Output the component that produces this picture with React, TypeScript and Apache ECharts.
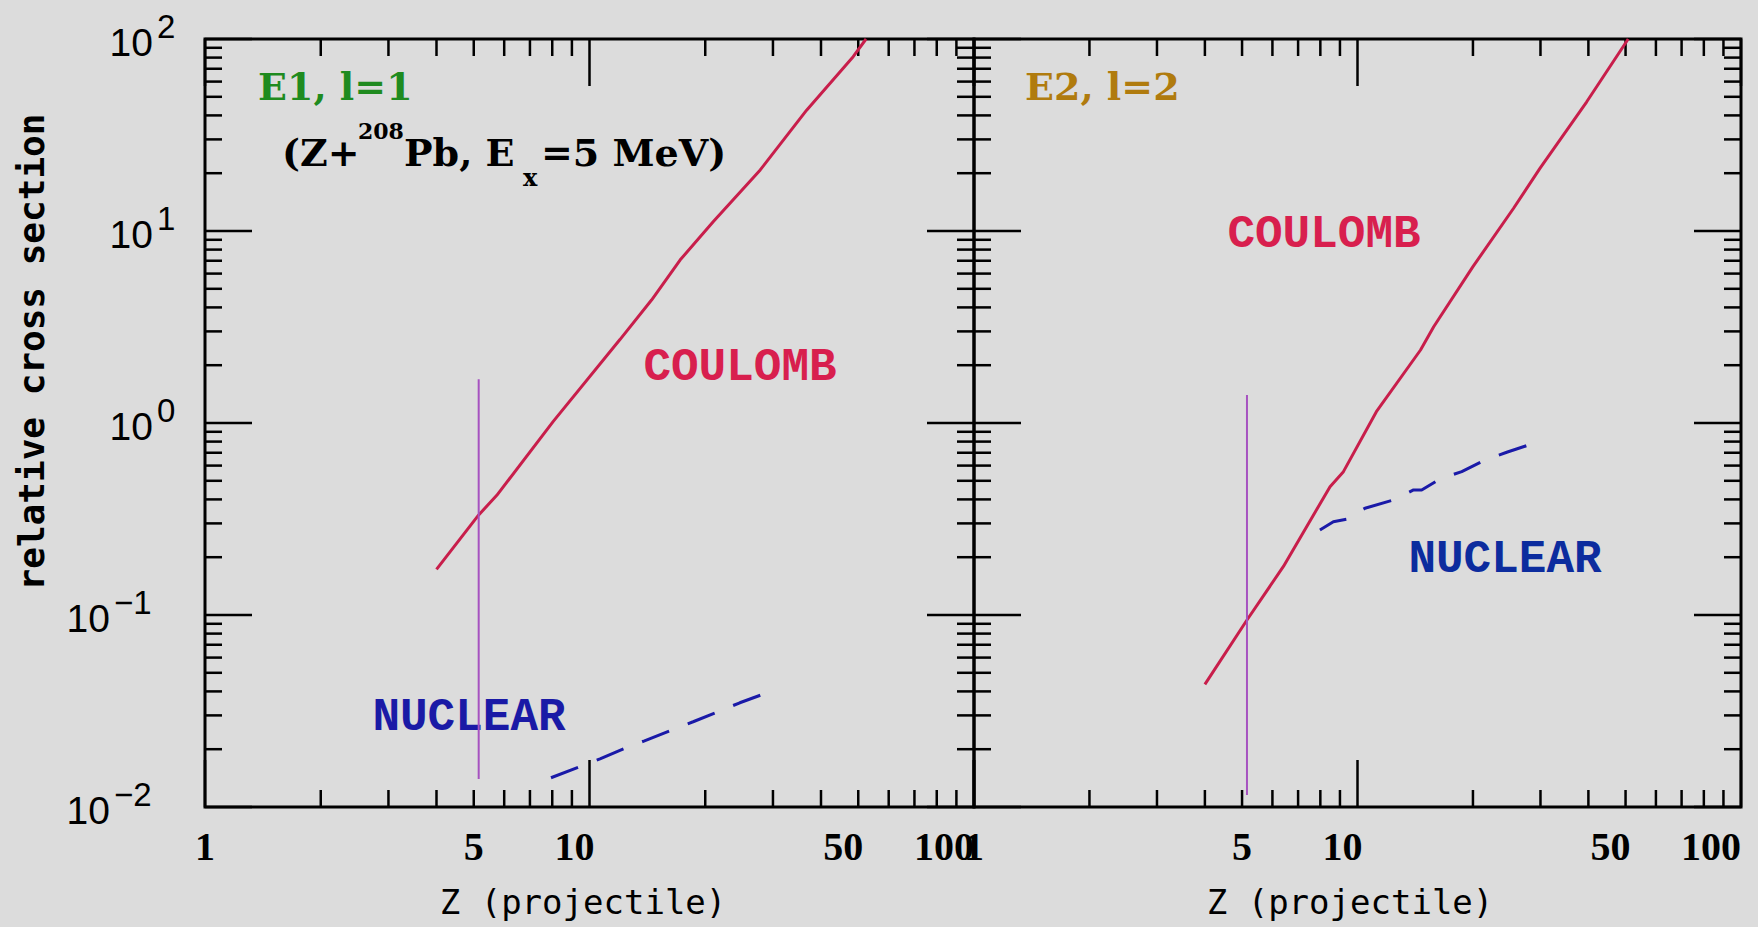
import React, { useEffect, useRef } from 'react';
import * as echarts from 'echarts';

// ---- axis ranges ----
const X_MIN = 1;
const X_MAX = 100;
const Y_MIN = 0.01;
const Y_MAX = 100;

// ---- tick values & labels ----
const xTickValues = [1, 2, 3, 4, 5, 6, 7, 8, 9, 10, 20, 30, 40, 50, 60, 70, 80, 90, 100];
const yTickValues = [
  0.01, 0.02, 0.03, 0.04, 0.05, 0.06, 0.07, 0.08, 0.09,
  0.1, 0.2, 0.3, 0.4, 0.5, 0.6, 0.7, 0.8, 0.9,
  1, 2, 3, 4, 5, 6, 7, 8, 9,
  10, 20, 30, 40, 50, 60, 70, 80, 90, 100,
];
const xTickLabels = [1, 5, 10, 50, 100];
const yTickExponents = [-2, -1, 0, 1, 2];

// ---- E1 panel ----
const e1CoulombZ = [4.0, 5.15, 5.74, 8.05, 12.0, 14.5, 17.2, 21.0, 27.8, 36.7, 48.5, 52.4];
const e1CoulombSigma = [0.173, 0.332, 0.42, 1.02, 2.72, 4.37, 7.06, 11.2, 20.8, 42.6, 80.9, 100];
const e1NuclearZ = [7.94, 9.41, 10.65, 12.5, 13.9, 16.4, 18.6, 21.8, 24.6, 28.3];
const e1NuclearSigma = [0.0142, 0.0162, 0.0178, 0.0204, 0.0221, 0.0252, 0.0278, 0.0316, 0.0349, 0.0387];
const e1MarkerZ = [5.15, 5.15];
const e1MarkerSigma = [0.014, 1.69];

// ---- E2 panel ----
const e2CoulombZ = [4.0, 5.15, 6.41, 8.48, 9.19, 11.2, 14.6, 15.8, 20.0, 25.5, 29.9, 39.6, 50.8];
const e2CoulombSigma = [0.0435, 0.0942, 0.179, 0.466, 0.558, 1.145, 2.4, 3.17, 6.52, 13.1, 21.2, 47.1, 100];
const e2NuclearZ = [7.98, 8.65, 9.41, 10.46, 12.4, 14.0, 14.7, 16.4, 18.7, 21.5, 24.5, 28.5];
const e2NuclearSigma = [0.277, 0.306, 0.316, 0.36, 0.397, 0.448, 0.448, 0.511, 0.558, 0.641, 0.704, 0.778];
const e2MarkerZ = [5.15, 5.15];
const e2MarkerSigma = [0.01155, 1.4];

const zip = (xs: number[], ys: number[]) => xs.map((x, i) => [x, ys[i]]);

const MAJOR = 47;
const MINOR = 17;
const TICK_STYLE = { stroke: '#000', lineWidth: 2.5 };
const isMajor = (v: number) => {
  const l = Math.log10(v);
  return Math.abs(l - Math.round(l)) < 1e-6;
};

const xTickRender = (_p: any, api: any) => {
  const v = api.value(0);
  const b = api.coord([v, Y_MIN]);
  const t = api.coord([v, Y_MAX]);
  const len = isMajor(v) ? MAJOR : MINOR;
  return {
    type: 'group',
    children: [
      { type: 'line', shape: { x1: b[0], y1: b[1], x2: b[0], y2: b[1] - len }, style: TICK_STYLE },
      { type: 'line', shape: { x1: t[0], y1: t[1], x2: t[0], y2: t[1] + len }, style: TICK_STYLE },
    ],
  };
};

const yTickRender = (_p: any, api: any) => {
  const v = api.value(1);
  const l = api.coord([X_MIN, v]);
  const r = api.coord([X_MAX, v]);
  const len = isMajor(v) ? MAJOR : MINOR;
  return {
    type: 'group',
    children: [
      { type: 'line', shape: { x1: l[0], y1: l[1], x2: l[0] + len, y2: l[1] }, style: TICK_STYLE },
      { type: 'line', shape: { x1: r[0], y1: r[1], x2: r[0] - len, y2: r[1] }, style: TICK_STYLE },
    ],
  };
};

const xLabelRender = (_p: any, api: any) => {
  const v = api.value(0);
  const b = api.coord([v, Y_MIN]);
  const s = String(v);
  return {
    type: 'text',
    x: b[0] - (s.length - 1) * 15,
    y: b[1] + 39,
    style: {
      text: s,
      fill: '#000',
      fontSize: 40,
      fontWeight: 'bold',
      fontFamily: '"Liberation Serif"',
      align: 'center',
      verticalAlign: 'middle',
      textAlign: 'center',
      textVerticalAlign: 'middle',
    },
  };
};

const yLabelRender = (_p: any, api: any) => {
  const v = api.value(1);
  const e = Math.round(Math.log10(v));
  const p = api.coord([X_MIN, v]);
  const mainRight = p[0] - (e < 0 ? 95 : 52);
  const sup = e < 0 ? '\u2212' + Math.abs(e) : String(e);
  return {
    type: 'group',
    children: [
      {
        type: 'text',
        x: mainRight,
        y: p[1] + 3.5,
        style: {
          text: '10', fill: '#000', fontSize: 39, fontFamily: '"Liberation Sans"',
          align: 'right', verticalAlign: 'middle', textAlign: 'right', textVerticalAlign: 'middle',
        },
      },
      {
        type: 'text',
        x: mainRight + 4,
        y: p[1] - 12.5,
        style: {
          text: sup, fill: '#000', fontSize: 33, fontFamily: '"Liberation Sans"',
          align: 'left', verticalAlign: 'middle', textAlign: 'left', textVerticalAlign: 'middle',
        },
      },
    ],
  };
};

const txt = (text: string, x: number, y: number, fill: string, size: number, family: string, weight: string, align: string, rotation = 0) => ({
  type: 'text',
  x,
  y,
  rotation,
  silent: true,
  style: {
    text,
    fill,
    fontSize: size,
    fontFamily: family,
    fontWeight: weight,
    align,
    verticalAlign: 'middle',
    textAlign: align,
    textVerticalAlign: 'middle',
  },
});

const axisCommon = {
  axisLine: { show: false },
  axisTick: { show: false },
  axisLabel: { show: false },
  splitLine: { show: false },
};

export default function App() {
  const ref = useRef<HTMLDivElement>(null);
  useEffect(() => {
    if (!ref.current) return;
    const chart = echarts.init(ref.current, null, { renderer: 'svg' });
    const customBase = (grid: number, data: number[][], renderItem: any) => ({
      type: 'custom',
      coordinateSystem: 'cartesian2d',
      xAxisIndex: grid,
      yAxisIndex: grid,
      data,
      renderItem,
      silent: true,
      clip: false,
      z: 3,
    });
    const line = (grid: number, data: number[][], color: string, width: number, type: any, z = 4) => ({
      type: 'line',
      xAxisIndex: grid,
      yAxisIndex: grid,
      data,
      showSymbol: false,
      symbol: 'none',
      smooth: false,
      clip: false,
      silent: true,
      z,
      lineStyle: { color, width, type, cap: 'butt' },
    });
    const serif = '"DejaVu Serif"';
    const mono = '"Liberation Mono"';
    const dmono = '"DejaVu Sans Mono"';
    chart.setOption({
      animation: false,
      backgroundColor: '#dcdcdc',
      grid: [
        { left: 205, top: 39, width: 769, height: 768, show: true, borderColor: '#000', borderWidth: 3, backgroundColor: 'transparent' },
        { left: 974, top: 39, width: 767, height: 768, show: true, borderColor: '#000', borderWidth: 3, backgroundColor: 'transparent' },
      ],
      xAxis: [0, 1].map((g) => ({ type: 'log', logBase: 10, min: X_MIN, max: X_MAX, gridIndex: g, ...axisCommon })),
      yAxis: [0, 1].map((g) => ({ type: 'log', logBase: 10, min: Y_MIN, max: Y_MAX, gridIndex: g, ...axisCommon })),
      series: [
        ...[0, 1].flatMap((g) => [
          customBase(g, xTickValues.map((v) => [v, 1]), xTickRender),
          customBase(g, yTickValues.map((v) => [1, v]), yTickRender),
          customBase(g, xTickLabels.map((v) => [v, 1]), xLabelRender),
        ]),
        customBase(0, yTickExponents.map((e) => [1, Math.pow(10, e)]), yLabelRender),
        line(0, zip(e1CoulombZ, e1CoulombSigma), '#c81e4b', 3, 'solid'),
        line(0, zip(e1NuclearZ, e1NuclearSigma), '#1a1aa8', 3, [29, 20]),
        line(0, zip(e1MarkerZ, e1MarkerSigma), '#a652c0', 2, 'solid', 5),
        line(1, zip(e2CoulombZ, e2CoulombSigma), '#c81e4b', 3, 'solid'),
        line(1, zip(e2NuclearZ, e2NuclearSigma), '#1a1aa8', 3, [29, 20]),
        line(1, zip(e2MarkerZ, e2MarkerSigma), '#a652c0', 2, 'solid', 5),
      ],
      graphic: [
        txt('E1, l=1', 258, 86, '#1f8b1f', 38, serif, 'bold', 'left'),
        txt('E2, l=2', 1025, 86, '#b07b0e', 38, serif, 'bold', 'left'),
        txt('(Z+', 282, 152, '#000', 38, serif, 'bold', 'left'),
        txt('208', 358, 131, '#000', 22, serif, 'bold', 'left'),
        txt('Pb, E', 404, 152, '#000', 38, serif, 'bold', 'left'),
        txt('x', 523, 177, '#000', 24, serif, 'bold', 'left'),
        txt('=5 MeV)', 541, 152, '#000', 38, serif, 'bold', 'left'),
        txt('COULOMB', 740, 368, '#d81f4e', 46, mono, 'bold', 'center'),
        txt('COULOMB', 1324, 235, '#d81f4e', 46, mono, 'bold', 'center'),
        txt('NUCLEAR', 469, 718, '#1a1aa6', 46, mono, 'bold', 'center'),
        txt('NUCLEAR', 1505, 560, '#0c2c9e', 46, mono, 'bold', 'center'),
        txt('Z (projectile)', 583, 902, '#000', 34, dmono, 'normal', 'center'),
        txt('Z (projectile)', 1350, 902, '#000', 34, dmono, 'normal', 'center'),
        txt('relative cross section', 31, 352, '#000', 36, dmono, 'bold', 'center', Math.PI / 2),
      ],
    });
    return () => chart.dispose();
  }, []);
  return (
    <div
      ref={ref}
      style={{ position: 'fixed', left: 0, top: 0, width: 1758, height: 927, background: '#dcdcdc' }}
    />
  );
}
